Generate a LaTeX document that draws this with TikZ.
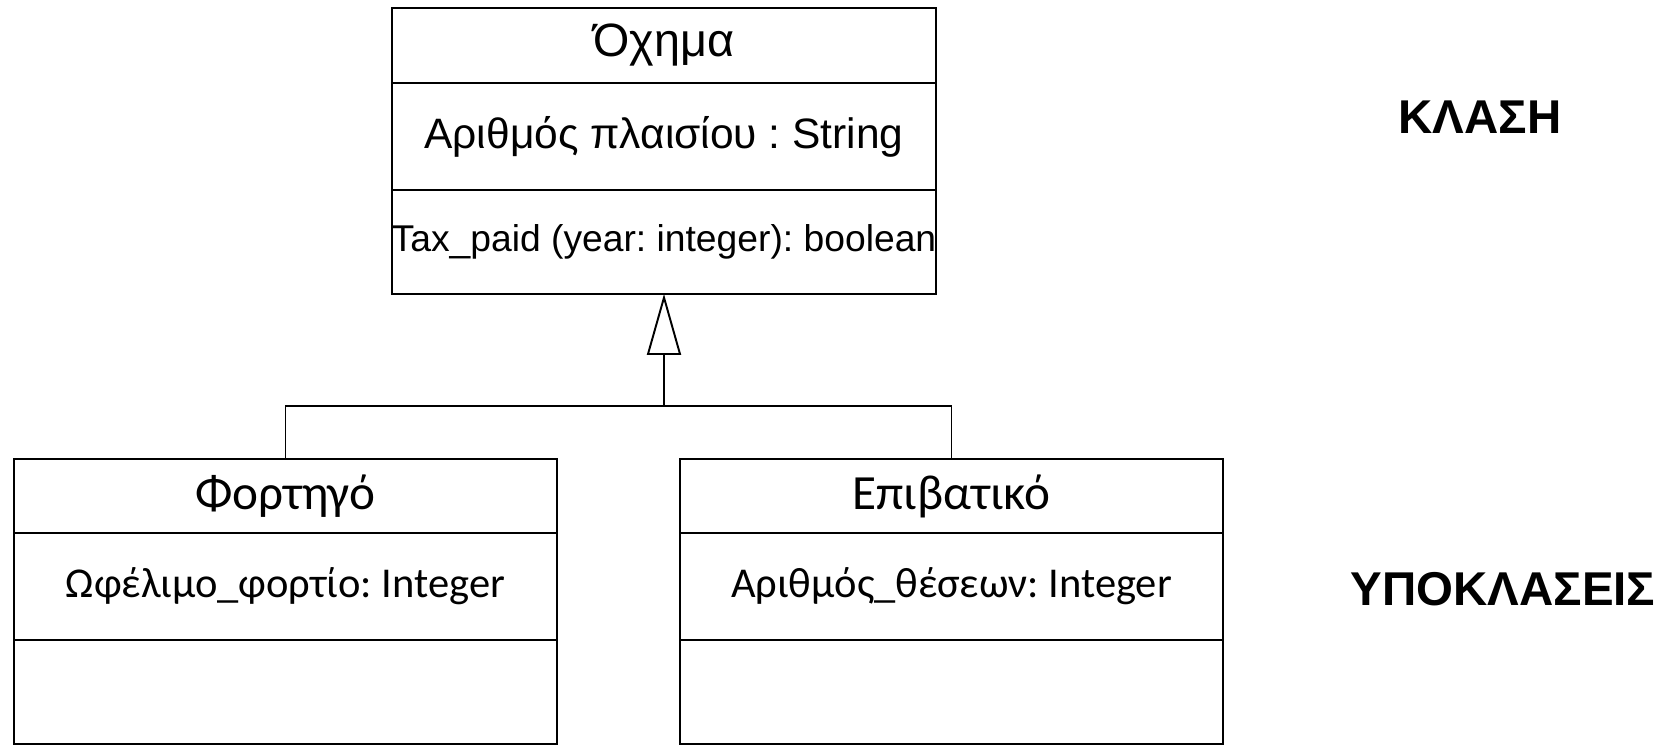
\documentclass[tikz,border=0pt]{standalone}
\usepackage{fontspec}
\setmainfont{Liberation Sans}
\newfontfamily\calibri{Carlito}
\usetikzlibrary{arrows.meta, positioning}

\tikzset{
  compartment/.style={draw, line width=1.1pt, outer sep=0pt, inner sep=0pt,
    minimum width=10.88cm},
  namerow/.style={compartment, minimum height=1.5cm},
  attrrow/.style={compartment, minimum height=2.14cm},
  oprow/.style={compartment, minimum height=2.08cm},
  sidelabel/.style={font=\fontsize{27pt}{31pt}\selectfont\bfseries},
  inherits/.style={line width=1.1pt, -{Triangle[open, length=1.22cm, width=0.68cm]}}
}

\begin{document}
\frenchspacing
\begin{tikzpicture}[x=0.02cm, y=-0.02cm]
  \useasboundingbox (0,0) rectangle (1666,744);

  % base class
  \node[namerow, font=\fontsize{26.6pt}{30pt}\selectfont] (vehicle) at (664,45.5) {Όχημα};
  \node[attrrow, below=0pt of vehicle, font=\fontsize{24.2pt}{28pt}\selectfont] (vehicleattr) {Αριθμός πλαισίου : String};
  \node[oprow, below=0pt of vehicleattr, font=\fontsize{21.2pt}{25pt}\selectfont] (vehicleops) {Tax\_paid (year: integer): boolean};

  % subclasses
  \node[namerow, minimum height=1.48cm, font=\calibri\fontsize{28pt}{32pt}\selectfont] (truck) at (285.5,496) {Φορτηγό};
  \node[attrrow, below=0pt of truck, font=\calibri\fontsize{24.2pt}{28pt}\selectfont] (truckattr) {Ωφέλιμο\_φορτίο: Integer};
  \node[oprow, below=0pt of truckattr] (truckops) {};

  \node[namerow, minimum height=1.48cm, font=\calibri\fontsize{28pt}{32pt}\selectfont] (car) at (951.5,496) {Επιβατικό};
  \node[attrrow, below=0pt of car, font=\calibri\fontsize{24.2pt}{28pt}\selectfont] (carattr) {Αριθμός\_θέσεων: Integer};
  \node[oprow, below=0pt of carattr] (carops) {};

  % generalisation
  \coordinate (fork) at (664,406);
  \draw[line width=1.1pt] (truck.north) |- (fork) -| (car.north);
  \draw[inherits] (fork) -- (vehicleops.south);

  \node[sidelabel] (classlabel) at (1480,117) {ΚΛΑΣΗ};
  \node[sidelabel] (sublabel) at (1503,589) {ΥΠΟΚΛΑΣΕΙΣ};
\end{tikzpicture}
\end{document}
